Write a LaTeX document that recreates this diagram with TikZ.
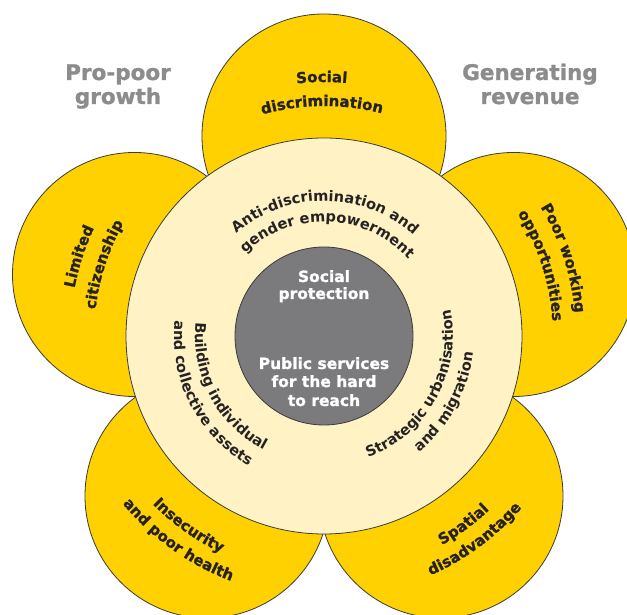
\documentclass[tikz,border=0pt]{standalone}
\usepackage{fontspec}
\setmainfont{DejaVu Sans}
\newfontfamily\heavyfont{DejaVu Sans Bold}[FakeBold=1.2]
\usetikzlibrary{decorations.text,calc}
\definecolor{petalY}{HTML}{FFD100}
\definecolor{ringC}{HTML}{FFF3C6}
\definecolor{coreG}{HTML}{7B7B7D}
\definecolor{titleG}{HTML}{8C8C8C}
\definecolor{inkD}{HTML}{262223}
\definecolor{lineD}{HTML}{3A3A3A}
\newcommand{\cwtext}[4]{\path[decorate,decoration={text along path,text align=center,text color=inkD,text={#4}}] ($(C)+({#1+#3}:#2)$) arc[start angle={#1+#3}, end angle={#1-#3}, radius=#2];}
\newcommand{\ccwtext}[4]{\path[decorate,decoration={text along path,text align=center,text color=inkD,text={#4}}] ($(C)+({#1-#3}:#2)$) arc[start angle={#1-#3}, end angle={#1+#3}, radius=#2];}
\begin{document}
\begin{tikzpicture}[x=1pt,y=1pt,
  petal/.style={circle,draw=lineD,line width=0.8pt,fill=petalY,minimum size=244pt,inner sep=0pt},
  ringbox/.style={circle,draw=lineD,line width=0.8pt,fill=ringC,minimum size=396pt,inner sep=0pt},
  corebox/.style={circle,draw=lineD,line width=0.8pt,fill=coreG,minimum size=178pt,inner sep=0pt},
  titletxt/.style={anchor=base,text=titleG,font=\heavyfont\fontsize{21.5}{24}\selectfont,inner sep=0pt},
  coretxt/.style={anchor=base,text=white,font=\heavyfont\fontsize{15.5}{18}\selectfont,inner sep=0pt}]
\clip (0,0) rectangle (627,615);
\fill[white] (0,0) rectangle (627,615);
\coordinate (C) at (324,279);
% petals
\node[petal] (ptop) at (324,479) {};
\node[petal] (pul) at (134.5,340.5) {};
\node[petal] (pur) at (513.5,340.5) {};
\node[petal] (pbl) at (207,119) {};
\node[petal] (pbr) at (441,119) {};
% ring and core
\node[ringbox] (ring) at (C) {};
\node[corebox] (core) at (C) {};
% titles
\node[titletxt] (t1a) at (118,535) {Pro-poor};
\node[titletxt] (t1b) at (118,511) {growth};
\node[titletxt] (t2a) at (530,535) {Generating};
\node[titletxt] (t2b) at (530,511) {revenue};
% core texts
\node[coretxt] (c1) at (324,333) {Social};
\node[coretxt] (c2) at (324,316) {protection};
\node[coretxt] (c3) at (324,246) {Public services};
\node[coretxt] (c4) at (324,228) {for the hard};
\node[coretxt] (c5) at (324,209) {to reach};
% ring texts
\cwtext{89.5}{135}{70}{|\bfseries\fontsize{14.6}{14.6}\selectfont|Anti-discrimination and}
\cwtext{88}{114}{80}{|\bfseries\fontsize{14.6}{14.6}\selectfont|gender empowerment}
\ccwtext{208}{129}{60}{|\bfseries\fontsize{14.6}{14.6}\selectfont|Building individual}
\ccwtext{207}{150}{55}{|\bfseries\fontsize{14.6}{14.6}\selectfont|and collective assets}
\ccwtext{331}{129}{60}{|\bfseries\fontsize{14.6}{14.6}\selectfont|Strategic urbanisation}
\ccwtext{331.5}{150}{55}{|\bfseries\fontsize{14.6}{14.6}\selectfont|and migration}
% petal texts
\cwtext{90.5}{254}{30}{|\heavyfont\fontsize{15}{15}\selectfont|Social}
\cwtext{90.5}{230}{30}{|\heavyfont\fontsize{15}{15}\selectfont|discrimination}
\cwtext{162}{254}{30}{|\heavyfont\fontsize{15}{15}\selectfont|Limited}
\cwtext{162}{230}{30}{|\heavyfont\fontsize{15}{15}\selectfont|citizenship}
\cwtext{18}{252}{30}{|\heavyfont\fontsize{15}{15}\selectfont|Poor working}
\cwtext{18}{229}{30}{|\heavyfont\fontsize{15}{15}\selectfont|opportunities}
\ccwtext{234.5}{240}{30}{|\heavyfont\fontsize{15}{15}\selectfont|Insecurity}
\ccwtext{234.5}{262}{30}{|\heavyfont\fontsize{15}{15}\selectfont|and poor health}
\ccwtext{306.5}{240}{30}{|\heavyfont\fontsize{15}{15}\selectfont|Spatial}
\ccwtext{306.5}{262}{30}{|\heavyfont\fontsize{15}{15}\selectfont|disadvantage}
\end{tikzpicture}
\end{document}
